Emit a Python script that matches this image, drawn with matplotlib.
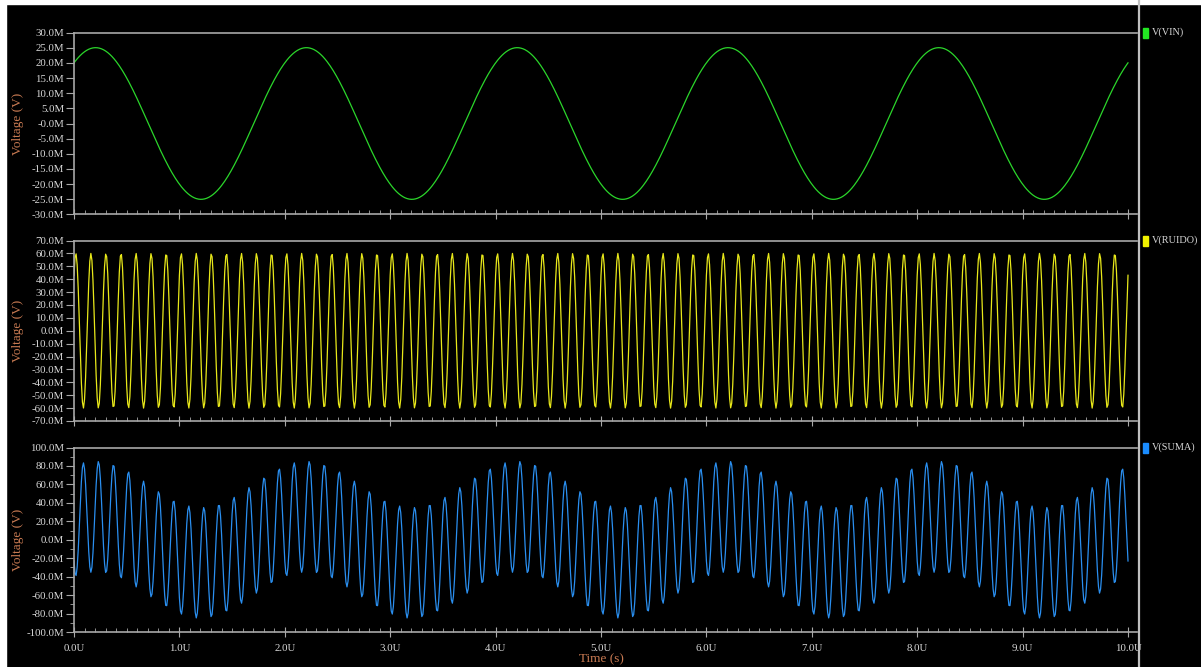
import numpy as np
import matplotlib.pyplot as plt
from matplotlib.lines import Line2D
from matplotlib.patches import Rectangle
from matplotlib.ticker import MultipleLocator

# transient run: 0 .. 10 us, 10 ns step
t_stop_us = 10.0
t_step_us = 0.01

# sine sources (amplitude in mV, frequency in MHz, phase in rad)
vin_amp, vin_freq, vin_phase = 25.0, 0.5, 0.927
ruido_amp, ruido_freq, ruido_phase = 60.0, 7.0, 0.80

signal_names = ['V(VIN)', 'V(RUIDO)', 'V(SUMA)']
signal_colors = ['#2bd62b', '#e8e81a', '#2a8ff0']
legend_colors = ['#22e622', '#f2f200', '#1a8cff']

# y ranges / tick labels per panel
ylims = [(-30, 30), (-70, 70), (-100, 100)]
ystep = [5, 10, 20]
ylabels = [
    ['-30.0M', '-25.0M', '-20.0M', '-15.0M', '-10.0M', '-5.0M', '-0.0M',
     '5.0M', '10.0M', '15.0M', '20.0M', '25.0M', '30.0M'],
    ['-70.0M', '-60.0M', '-50.0M', '-40.0M', '-30.0M', '-20.0M', '-10.0M',
     '0.0M', '10.0M', '20.0M', '30.0M', '40.0M', '50.0M', '60.0M', '70.0M'],
    ['-100.0M', '-80.0M', '-60.0M', '-40.0M', '-20.0M', '0.0M',
     '20.0M', '40.0M', '60.0M', '80.0M', '100.0M'],
]
xticks = list(range(11))
xticklabels = ['0.0U', '1.0U', '2.0U', '3.0U', '4.0U', '5.0U',
               '6.0U', '7.0U', '8.0U', '9.0U', '10.0U']

t = np.arange(0, t_stop_us + t_step_us / 2, t_step_us)
vin = vin_amp * np.sin(2 * np.pi * vin_freq * t + vin_phase)
ruido = ruido_amp * np.sin(2 * np.pi * ruido_freq * t + ruido_phase)
suma = vin - ruido
traces = [vin, ruido, suma]

W, H = 1201, 667
fig = plt.figure(figsize=(W / 100, H / 100), dpi=100, facecolor='black')

axis_col = '#a8a8a8'
text_col = '#d8d8d8'
label_col = '#c87a52'
font = 'Liberation Serif'

# panel boxes in pixels: (top, bottom)
panels = [(32.5, 214.5), (240.5, 421), (447.5, 632)]
x_left, x_right = 74, 1137
x_max = t_stop_us * (x_right - x_left) / (1128 - x_left)

for i, (top, bot) in enumerate(panels):
    ax = fig.add_axes([x_left / W, 1 - bot / H, (x_right - x_left) / W, (bot - top) / H])
    ax.set_facecolor('black')
    ax.plot(t, traces[i], color=signal_colors[i], lw=0.9)
    ax.set_xlim(0, x_max)
    ax.set_ylim(*ylims[i])

    lo, hi = ylims[i]
    ax.set_yticks(np.arange(lo, hi + 1, ystep[i]))
    ax.set_yticklabels(ylabels[i])
    if i == 2:
        ax.yaxis.set_minor_locator(MultipleLocator(10))
    ax.set_xticks(xticks)
    ax.xaxis.set_minor_locator(MultipleLocator(0.1))
    if i == 2:
        ax.set_xticklabels(xticklabels)
    else:
        ax.set_xticklabels([])

    for side in ['top', 'bottom', 'left']:
        ax.spines[side].set_color(axis_col)
        ax.spines[side].set_linewidth(1.2)
    ax.spines['right'].set_visible(False)
    ax.tick_params(axis='y', which='major', direction='out', length=6,
                   color=axis_col, labelcolor=text_col, labelsize=7.8, pad=1)
    ax.tick_params(axis='y', which='minor', direction='out', length=3, color=axis_col)
    ax.tick_params(axis='x', which='major', direction='inout', length=7,
                   color=axis_col, labelcolor=text_col, labelsize=7.8, pad=5)
    ax.tick_params(axis='x', which='minor', direction='in', length=3, color=axis_col)
    for lab in ax.get_xticklabels() + ax.get_yticklabels():
        lab.set_fontfamily(font)

    ax.set_ylabel('Voltage (V)', color=label_col, fontsize=9.5, family=font)
    ax.yaxis.set_label_coords(-50 / (x_right - x_left), 0.5)

    # legend entry to the right of the divider
    fig.add_artist(Rectangle((1143 / W, 1 - (top + 5) / H), 5 / W, 10 / H,
                             transform=fig.transFigure, color=legend_colors[i]))
    fig.text(1152 / W, 1 - top / H, signal_names[i], color=text_col,
             fontsize=7.4, family=font, va='center', ha='left')

# x axis title under the bottom panel
fig.text((x_left + 1128) / 2 / W, 1 - 659 / H, 'Time (s)', color=label_col,
         fontsize=9.5, family=font, ha='center', va='center')

# vertical divider between plots and legend
fig.add_artist(Line2D([1139 / W, 1139 / W], [0, 1], transform=fig.transFigure,
                      color='#c0c0c0', lw=1.6))

# white frame strips on top and left edge
fig.add_artist(Rectangle((0, 1 - 4 / H), 1, 4 / H, transform=fig.transFigure, color='white'))
fig.add_artist(Rectangle((0, 0), 6 / W, 1, transform=fig.transFigure, color='white'))

fig.savefig('out.png', dpi=100, facecolor='black')
